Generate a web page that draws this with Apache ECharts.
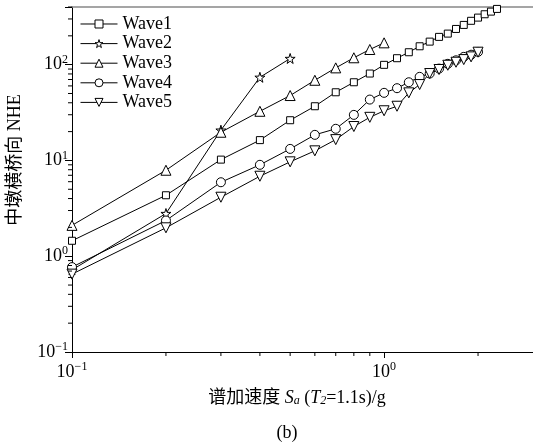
<!DOCTYPE html>
<html>
<head>
<meta charset="utf-8">
<script src="https://cdn.jsdelivr.net/npm/echarts@6/dist/echarts.min.js"></script>
<style>
  html, body { margin: 0; background: #fff; }
  #chart { width: 533px; height: 448px; }
</style>
</head>
<body>
<div id="chart"></div>
<script>
// ── data ──────────────────────────────────────────────────
const saSteps = [0.1, 0.2, 0.3, 0.4, 0.5, 0.6, 0.7, 0.8, 0.9, 1.0, 1.1, 1.2,
                 1.3, 1.4, 1.5, 1.6, 1.7, 1.8, 1.9, 2.0, 2.1, 2.2, 2.3]

const wave1 = [1.45, 4.33, 10.2, 16.3, 26.3, 36.8, 51.5, 65.5, 80.8, 99.6, 116.8, 134.8,
               155.6, 174, 195, 211, 236, 260, 287, 310, 336, 358, 382]
const wave2 = [0.72, 2.79, 20.7, 73.8, 116]
const wave3 = [2.1, 7.9, 19.7, 32.6, 47.6, 68.7, 92.6, 118, 144, 169]
const wave4 = [0.77, 2.36, 5.92, 9.0, 13.2, 18.5, 21.4, 29.9, 43.2, 50.8, 56.8, 65.5,
               74.6, 80.8, 91, 102, 111, 120.6, 127, 136]
const wave5 = [0.65, 1.98, 4.13, 6.84, 9.67, 12.6, 16.5, 22.6, 28.2, 33, 36.8, 50.8,
               62, 80.8, 89, 98.6, 106, 113, 120.6, 135]

const waveNames = ['Wave1', 'Wave2', 'Wave3', 'Wave4', 'Wave5']

// minor log ticks
const xMinorTicks = [0.2, 0.3, 0.4, 0.5, 0.6, 0.7, 0.8, 0.9, 2]
const yMinorTicks = [0.2, 0.3, 0.4, 0.5, 0.6, 0.7, 0.8, 0.9,
                     2, 3, 4, 5, 6, 7, 8, 9,
                     20, 30, 40, 50, 60, 70, 80, 90,
                     200, 300, 400]

const X_MIN = 0.1, X_MAX = 3
const Y_MIN = 0.1, Y_MAX = 400

// ── styles ────────────────────────────────────────────────
const FONT = '"Liberation Serif", "Noto Sans CJK SC", serif'
const STAR = 'path://M50,0 L61,35 L98,35 L68,57 L79,91 L50,70 L21,91 L32,57 L2,35 L39,35 Z'
const TRI_DOWN = 'path://M0,0 L100,0 L50,87 Z'

const markers = [
  { symbol: 'rect',     size: 7 },
  { symbol: STAR,       size: 10 },
  { symbol: 'triangle', size: 10 },
  { symbol: 'circle',   size: 9 },
  { symbol: TRI_DOWN,   size: 10 },
]

const powLabel = (v) => {
  const e = Math.log10(v)
  if (Math.abs(e - Math.round(e)) > 1e-6) return ''
  const n = Math.round(e)
  return `{b|10}{s|${n < 0 ? '\u2212' + (-n) : n}}`
}

const labelRich = {
  b: { fontFamily: FONT, fontSize: 18, color: '#000' },
  s: { fontFamily: FONT, fontSize: 12, color: '#000', verticalAlign: 'top', padding: [0, 0, 10, 0] },
}

function pairs(vals) {
  return vals.map((v, i) => [saSteps[i], v])
}

function minorTickSeries(values, isX) {
  return {
    type: 'custom', silent: true, clip: false, z: 10,
    data: values.map(v => (isX ? [v, Y_MIN] : [X_MIN, v])),
    renderItem(params, api) {
      const p = api.coord([api.value(0), api.value(1)])
      const shape = isX
        ? { x1: p[0], y1: p[1], x2: p[0], y2: p[1] + 4 }
        : { x1: p[0] - 4, y1: p[1], x2: p[0], y2: p[1] }
      return { type: 'line', shape, style: { stroke: '#000', lineWidth: 1 } }
    },
  }
}

const waveData = [wave1, wave2, wave3, wave4, wave5]

const option = {
  animation: false,
  backgroundColor: '#fff',
  grid: { left: 72, top: 7, right: -1, bottom: 96 },
  legend: {
    data: waveNames,
    orient: 'vertical',
    left: 80, top: 15,
    itemWidth: 37, itemHeight: 10, itemGap: 1.6,
    padding: 0,
    itemStyle: { color: '#fff', borderColor: '#000', borderWidth: 1 },
    lineStyle: { color: '#000', width: 1 },
    textStyle: { fontFamily: FONT, fontSize: 18, color: '#000' },
  },
  xAxis: [
    {
      type: 'log', logBase: 10, min: X_MIN, max: X_MAX,
      axisLine: { lineStyle: { color: '#000', width: 1 } },
      axisTick: { length: 6, lineStyle: { color: '#000' } },
      axisLabel: { formatter: powLabel, rich: labelRich, margin: 9, showMaxLabel: false },
      splitLine: { show: false },
    },
    {
      type: 'value', position: 'top', min: 0, max: 1,
      axisLine: { lineStyle: { color: '#888', width: 1.5 } },
      axisTick: { show: false }, axisLabel: { show: false }, splitLine: { show: false },
    },
  ],
  yAxis: {
    type: 'log', logBase: 10, min: Y_MIN, max: Y_MAX,
    axisLine: { show: true, lineStyle: { color: '#000', width: 1 } },
    axisTick: { show: true, length: 7, lineStyle: { color: '#000' } },
    axisLabel: { formatter: powLabel, rich: labelRich, margin: 4 },
    splitLine: { show: false },
  },
  graphic: [
    {
      type: 'text', x: 15, y: 160, rotation: Math.PI / 2,
      style: {
        text: '中墩横桥向 NHE', font: `18px ${FONT}`, fill: '#000',
        align: 'center', verticalAlign: 'middle',
      },
    },
    {
      type: 'text', x: 297, y: 398,
      style: {
        text: '谱加速度 {i|S}{sub|a} ({i|T}{sub|2}=1.1s)/g',
        font: `18px ${FONT}`, fill: '#000', align: 'center', verticalAlign: 'middle',
        rich: {
          i: { fontFamily: FONT, fontSize: 18, fontStyle: 'italic', fill: '#000' },
          sub: { fontFamily: FONT, fontSize: 12, fontStyle: 'italic', fill: '#000', verticalAlign: 'bottom', padding: [6, 0, 0, 0] },
        },
      },
    },
    {
      type: 'text', x: 287, y: 433,
      style: { text: '(b)', font: `18px ${FONT}`, fill: '#000', align: 'center', verticalAlign: 'middle' },
    },
  ],
  series: [
    ...waveData.map((vals, i) => ({
      name: waveNames[i],
      type: 'line',
      data: pairs(vals),
      symbol: markers[i].symbol,
      symbolSize: markers[i].size,
      showAllSymbol: true,
      lineStyle: { color: '#000', width: 1 },
      itemStyle: { color: '#fff', borderColor: '#000', borderWidth: 1 },
      z: 3,
    })),
    minorTickSeries(xMinorTicks, true),
    minorTickSeries(yMinorTicks, false),
  ],
}

const chart = echarts.init(document.getElementById('chart'))
chart.setOption(option)
</script>
</body>
</html>
